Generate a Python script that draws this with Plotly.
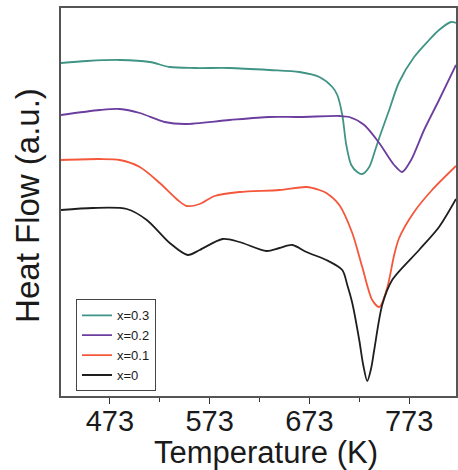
import plotly.graph_objects as go

# Temperature (K) and heat flow (a.u.)
T_03 = [424, 450, 483, 513, 533, 558, 593, 633, 663, 683, 696, 701, 706, 710, 715, 721, 726, 733, 739, 743, 753, 763, 778, 793, 803, 815, 820]
H_03 = [333, 335, 336, 334, 329, 328, 328, 326, 324, 319, 309, 301, 281, 251, 231, 224, 222, 229, 246, 258, 286, 314, 339, 356, 366, 374, 373]

T_02 = [424, 463, 483, 503, 528, 548, 593, 633, 663, 703, 713, 728, 743, 758, 766, 775, 788, 803, 820]
H_02 = [281, 286, 287, 283, 274, 272, 276, 279, 279, 280, 279, 271, 253, 231, 224, 236, 266, 296, 331]

T_01 = [424, 463, 483, 503, 523, 541, 550, 563, 578, 603, 643, 670, 683, 690, 703, 716, 726, 736, 743, 751, 758, 763, 778, 796, 820]
H_01 = [236, 237, 236, 229, 213, 196, 190, 192, 200, 204, 206, 209, 206, 203, 191, 163, 129, 96, 89, 108, 141, 158, 184, 206, 230]

T_00 = [424, 456, 490, 510, 533, 551, 563, 586, 603, 630, 643, 656, 670, 690, 706, 711, 716, 723, 727, 731, 735, 738, 746, 756, 783, 803, 820]
H_00 = [186, 188, 187, 176, 153, 141, 146, 157, 154, 145, 148, 151, 144, 136, 126, 111, 93, 56, 31, 15, 28, 46, 91, 116, 146, 169, 197]

labels = ["x=0.3", "x=0.2", "x=0.1", "x=0"]
colors = ["#3f9485", "#6a3d9e", "#f4573a", "#1e1e1e"]
xs = [T_03, T_02, T_01, T_00]
ys = [H_03, H_02, H_01, H_00]

tick_vals = [473, 573, 673, 773]
x_title = "Temperature (K)"
y_title = "Heat Flow (a.u.)"

fig = go.Figure()
for x, y, name, c in zip(xs, ys, labels, colors):
    fig.add_trace(go.Scatter(x=x, y=y, mode="lines", name=name,
                             line=dict(color=c, width=1.8, shape="spline", smoothing=0.8)))

font_family = "Arial, Liberation Sans, sans-serif"
fig.update_layout(
    width=458, height=470,
    margin=dict(l=61, r=2, t=8, b=74, autoexpand=False),
    paper_bgcolor="white", plot_bgcolor="white",
    font=dict(family=font_family, color="#1a1a1a"),
    hovermode=False,
    showlegend=True,
    legend=dict(x=0.038, y=0.012, xanchor="left", yanchor="bottom",
                bordercolor="#444", borderwidth=1, bgcolor="white",
                font=dict(size=13, family=font_family), tracegroupgap=0,
                itemwidth=30),
)
fig.update_xaxes(range=[424, 820], tickvals=tick_vals, ticktext=[str(v) for v in tick_vals],
                 ticks="outside", ticklen=6, tickwidth=1.2, tickcolor="#333",
                 minor=dict(ticks="outside", ticklen=4, tickwidth=1.2, tickcolor="#333", tick0=423, dtick=100),
                 tickfont=dict(size=29), ticklabelstandoff=-8,
                 showgrid=False, zeroline=False, automargin=False,
                 showline=True, linecolor="#555", linewidth=1.5, mirror=True)
fig.update_yaxes(range=[0, 388], showticklabels=False, ticks="", showgrid=False, zeroline=False,
                 automargin=False,
                 showline=True, linecolor="#555", linewidth=1.5, mirror=True)

fig.add_annotation(text=x_title, xref="paper", yref="paper", x=0.52, y=-0.145,
                   xanchor="center", yanchor="middle", showarrow=False,
                   font=dict(size=31, family=font_family, color="#1a1a1a"))
fig.add_annotation(text=y_title, xref="paper", yref="paper", x=-0.0835, y=0.49,
                   xanchor="center", yanchor="middle", showarrow=False, textangle=-90,
                   font=dict(size=33, family=font_family, color="#1a1a1a"))

# remove the default 8px page margin so the figure fills the window exactly
fig.write_html("out.html", config={"displayModeBar": False},
               post_script="document.body.style.margin='0px';document.body.style.overflow='hidden';")
